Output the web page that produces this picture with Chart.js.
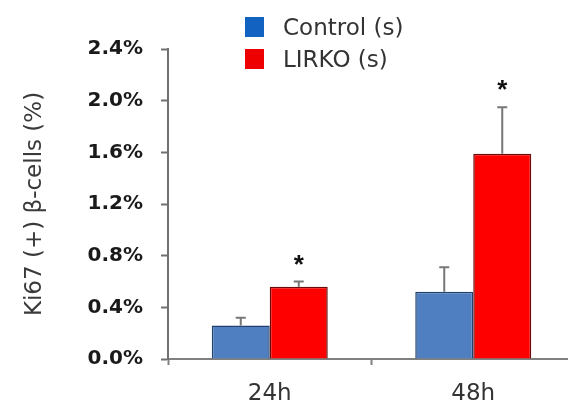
<!DOCTYPE html>
<html>
<head>
<meta charset="utf-8">
<script src="https://cdn.jsdelivr.net/npm/chart.js@4"></script>
<style>
  html, body { margin: 0; padding: 0; background: #fff; overflow: hidden; }
  #wrap { position: relative; width: 578px; height: 407px; }
  #legend { position: absolute; left: 245px; top: 11px; font-family: 'DejaVu Sans'; font-size: 23px; color: #333; }
  .item { display: flex; align-items: center; height: 32px; }
  .box { width: 19px; height: 20px; margin-right: 19px; }
</style>
</head>
<body>
<div id="wrap">
  <canvas id="graph" width="578" height="407"></canvas>
  <div id="legend"></div>
</div>
<script>
const categories = ['24h', '48h'];
const seriesNames = ['Control (s)', 'LIRKO (s)'];
const controlValues = [0.26, 0.52];
const controlErrors = [0.06, 0.19];
const lirkoValues = [0.56, 1.59];
const lirkoErrors = [0.04, 0.36];
const lirkoMarks = ['*', '*'];

// error bars + significance stars, positioned off the bar elements and y scale
const errorBars = {
  id: 'errorBars',
  afterDatasetsDraw(chart) {
    const ctx = chart.ctx;
    const y = chart.scales.y;
    chart.data.datasets.forEach((ds, i) => {
      const meta = chart.getDatasetMeta(i);
      meta.data.forEach((bar, j) => {
        const top = y.getPixelForValue(ds.data[j] + ds.errors[j]);
        ctx.save();
        ctx.strokeStyle = '#777';
        ctx.lineWidth = 2;
        ctx.beginPath();
        ctx.moveTo(bar.x, bar.y);
        ctx.lineTo(bar.x, top);
        ctx.moveTo(bar.x - 5, top);
        ctx.lineTo(bar.x + 5, top);
        ctx.stroke();
        if (ds.marks && ds.marks[j]) {
          ctx.fillStyle = '#111';
          ctx.font = 'bold 26px "Liberation Sans"';
          ctx.textAlign = 'center';
          ctx.textBaseline = 'alphabetic';
          ctx.fillText(ds.marks[j], bar.x, top - 9);
        }
        ctx.restore();
      });
    });
  }
};

const chart = new Chart(document.getElementById('graph').getContext('2d'), {
  type: 'bar',
  data: {
    labels: categories,
    datasets: [
      {
        label: seriesNames[0],
        data: controlValues,
        errors: controlErrors,
        backgroundColor: '#4f7fc0',
        borderColor: '#24406e',
        borderWidth: 1.5,
        legendColor: '#1262c2',
      },
      {
        label: seriesNames[1],
        data: lirkoValues,
        errors: lirkoErrors,
        marks: lirkoMarks,
        backgroundColor: '#ff0000',
        borderColor: '#6a0a0a',
        borderWidth: 1.5,
        legendColor: '#ee0000',
      },
    ],
  },
  options: {
    responsive: false,
    devicePixelRatio: 1,
    animation: false,
    layout: { padding: { top: 49, right: 3, left: 0, bottom: 0 } },
    plugins: { legend: { display: false }, tooltip: { enabled: false } },
    datasets: { bar: { categoryPercentage: 0.57, barPercentage: 1 } },
    scales: {
      x: {
        grid: { offset: true, drawOnChartArea: false, drawTicks: true, tickLength: 6, tickColor: '#808080', tickWidth: 2 },
        border: { color: '#808080', width: 2 },
        ticks: { color: '#333', padding: 15, font: { family: 'DejaVu Sans', size: 23 } },
        afterFit(scale) { scale.height = 48; },
      },
      y: {
        min: 0,
        max: 2.4,
        grid: { drawOnChartArea: false, drawTicks: true, tickLength: 7, tickColor: '#707070', tickWidth: 2 },
        border: { color: '#707070', width: 2 },
        ticks: {
          stepSize: 0.4,
          padding: 18,
          color: '#1a1a1a',
          font: { family: 'DejaVu Sans', size: 20, weight: 'bold' },
          callback: (v) => v.toFixed(1) + '%',
        },
        title: {
          display: true,
          text: 'Ki67 (+) β-cells (%)',
          color: '#3a3a3a',
          padding: { top: 21, bottom: 0 },
          font: { family: 'DejaVu Sans', size: 23 },
        },
        afterFit(scale) { scale.width = 168; },
      },
    },
  },
  plugins: [errorBars],
});

// legend as html, built from the datasets
let html = '';
chart.data.datasets.forEach((ds) => {
  html = html + `<div class="item"><span class="box" style="background:${ds.legendColor}"></span>${ds.label}</div>`;
});
document.getElementById('legend').innerHTML = html;
</script>
</body>
</html>
